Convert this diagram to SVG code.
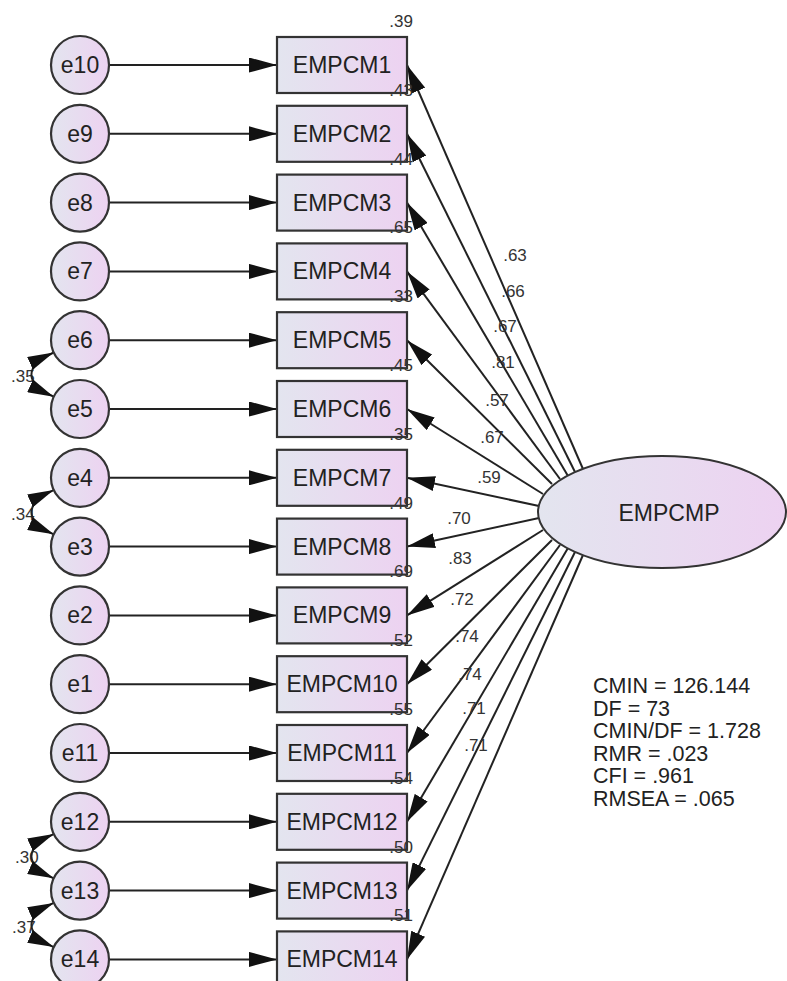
<svg xmlns="http://www.w3.org/2000/svg" width="787" height="981" viewBox="0 0 787 981">
<style>
.bx{fill:url(#gb);stroke:#333;stroke-width:2.2}
.er{fill:url(#gb);stroke:#333;stroke-width:2.2}
.lv{fill:url(#gb);stroke:#333;stroke-width:2}
.t{font-family:"Liberation Sans",Arial,sans-serif;fill:#222}
.nl{font-size:23px;text-anchor:middle}
.cf{font-size:17px;fill:#333;text-anchor:middle}
.r2{font-size:17px;fill:#333;text-anchor:end}
.cv{font-size:17px;fill:#333}
.fit{font-size:21.5px;fill:#222}
.ln{stroke:#222;stroke-width:2;fill:none}
</style>
<defs>
<linearGradient id="gb" x1="0" y1="0" x2="1" y2="0">
<stop offset="0" stop-color="#e3e5ef"/>
<stop offset="1" stop-color="#edd2f1"/>
</linearGradient>
<marker id="ah" markerUnits="userSpaceOnUse" markerWidth="28" markerHeight="15" refX="28" refY="7.5" orient="auto-start-reverse" viewBox="0 0 28 15">
<path d="M0,0 L28,7.5 L0,15 Z" fill="#111"/>
</marker>
<marker id="ac" markerUnits="userSpaceOnUse" markerWidth="26" markerHeight="14" refX="26" refY="7" orient="auto-start-reverse" viewBox="0 0 26 14">
<path d="M0,0 L26,7 L0,14 Z" fill="#111"/>
</marker>
</defs>
<rect width="787" height="981" fill="#fff"/>

<g id="labels-cov">
<text class="t cv" x="11" y="382">.35</text>
<text class="t cv" x="11" y="520">.34</text>
<text class="t cv" x="15" y="863">.30</text>
<text class="t cv" x="12" y="933">.37</text>
</g>

<g id="connectors">
<line class="ln" x1="109" y1="65" x2="277" y2="65" marker-end="url(#ah)"/>
<line class="ln" x1="109" y1="133.8" x2="277" y2="133.8" marker-end="url(#ah)"/>
<line class="ln" x1="109" y1="202.6" x2="277" y2="202.6" marker-end="url(#ah)"/>
<line class="ln" x1="109" y1="271.4" x2="277" y2="271.4" marker-end="url(#ah)"/>
<line class="ln" x1="109" y1="340.2" x2="277" y2="340.2" marker-end="url(#ah)"/>
<line class="ln" x1="109" y1="409" x2="277" y2="409" marker-end="url(#ah)"/>
<line class="ln" x1="109" y1="477.8" x2="277" y2="477.8" marker-end="url(#ah)"/>
<line class="ln" x1="109" y1="546.6" x2="277" y2="546.6" marker-end="url(#ah)"/>
<line class="ln" x1="109" y1="615.4" x2="277" y2="615.4" marker-end="url(#ah)"/>
<line class="ln" x1="109" y1="684.2" x2="277" y2="684.2" marker-end="url(#ah)"/>
<line class="ln" x1="109" y1="753" x2="277" y2="753" marker-end="url(#ah)"/>
<line class="ln" x1="109" y1="821.8" x2="277" y2="821.8" marker-end="url(#ah)"/>
<line class="ln" x1="109" y1="890.6" x2="277" y2="890.6" marker-end="url(#ah)"/>
<line class="ln" x1="109" y1="959.4" x2="277" y2="959.4" marker-end="url(#ah)"/>

<line class="ln" x1="583" y1="469" x2="407" y2="65" marker-end="url(#ah)"/>
<line class="ln" x1="575" y1="472" x2="407" y2="133.8" marker-end="url(#ah)"/>
<line class="ln" x1="568" y1="476" x2="407" y2="202.6" marker-end="url(#ah)"/>
<line class="ln" x1="560" y1="479" x2="407" y2="271.4" marker-end="url(#ah)"/>
<line class="ln" x1="552" y1="484" x2="407" y2="340.2" marker-end="url(#ah)"/>
<line class="ln" x1="543" y1="494" x2="407" y2="409" marker-end="url(#ah)"/>
<line class="ln" x1="539" y1="506" x2="407" y2="477.8" marker-end="url(#ah)"/>
<line class="ln" x1="539" y1="518" x2="407" y2="546.6" marker-end="url(#ah)"/>
<line class="ln" x1="543" y1="530" x2="407" y2="615.4" marker-end="url(#ah)"/>
<line class="ln" x1="552" y1="540" x2="407" y2="684.2" marker-end="url(#ah)"/>
<line class="ln" x1="560" y1="545" x2="407" y2="753" marker-end="url(#ah)"/>
<line class="ln" x1="568" y1="548" x2="407" y2="821.8" marker-end="url(#ah)"/>
<line class="ln" x1="575" y1="552" x2="407" y2="890.6" marker-end="url(#ah)"/>
<line class="ln" x1="583" y1="555" x2="407" y2="959.4" marker-end="url(#ah)"/>

<path class="ln" d="M53.7,352.5 C24,366 24,383 53.7,396.7" marker-start="url(#ac)" marker-end="url(#ac)"/>
<path class="ln" d="M53.7,490.1 C24,503.6 24,520.8 53.7,534.3" marker-start="url(#ac)" marker-end="url(#ac)"/>
<path class="ln" d="M53.7,834.1 C24,847.6 24,864.8 53.7,878.3" marker-start="url(#ac)" marker-end="url(#ac)"/>
<path class="ln" d="M53.7,902.9 C24,916.4 24,933.6 53.7,947.1" marker-start="url(#ac)" marker-end="url(#ac)"/>
</g>

<g id="coef-labels">
<text class="t cf" x="515" y="261">.63</text>
<text class="t cf" x="513" y="297">.66</text>
<text class="t cf" x="505" y="332">.67</text>
<text class="t cf" x="503" y="368">.81</text>
<text class="t cf" x="497" y="406">.57</text>
<text class="t cf" x="492" y="443">.67</text>
<text class="t cf" x="489" y="483">.59</text>
<text class="t cf" x="459" y="524">.70</text>
<text class="t cf" x="460" y="564">.83</text>
<text class="t cf" x="462" y="605">.72</text>
<text class="t cf" x="467" y="642">.74</text>
<text class="t cf" x="470" y="680">.74</text>
<text class="t cf" x="474" y="714">.71</text>
<text class="t cf" x="476" y="751">.71</text>
</g>

<g id="e10"><circle class="er" cx="80" cy="65" r="29"/><text class="t nl" x="80" y="73">e10</text></g>
<g id="e9"><circle class="er" cx="80" cy="133.8" r="29"/><text class="t nl" x="80" y="141.8">e9</text></g>
<g id="e8"><circle class="er" cx="80" cy="202.6" r="29"/><text class="t nl" x="80" y="210.6">e8</text></g>
<g id="e7"><circle class="er" cx="80" cy="271.4" r="29"/><text class="t nl" x="80" y="279.4">e7</text></g>
<g id="e6"><circle class="er" cx="80" cy="340.2" r="29"/><text class="t nl" x="80" y="348.2">e6</text></g>
<g id="e5"><circle class="er" cx="80" cy="409" r="29"/><text class="t nl" x="80" y="417">e5</text></g>
<g id="e4"><circle class="er" cx="80" cy="477.8" r="29"/><text class="t nl" x="80" y="485.8">e4</text></g>
<g id="e3"><circle class="er" cx="80" cy="546.6" r="29"/><text class="t nl" x="80" y="554.6">e3</text></g>
<g id="e2"><circle class="er" cx="80" cy="615.4" r="29"/><text class="t nl" x="80" y="623.4">e2</text></g>
<g id="e1"><circle class="er" cx="80" cy="684.2" r="29"/><text class="t nl" x="80" y="692.2">e1</text></g>
<g id="e11"><circle class="er" cx="80" cy="753" r="29"/><text class="t nl" x="80" y="761">e11</text></g>
<g id="e12"><circle class="er" cx="80" cy="821.8" r="29"/><text class="t nl" x="80" y="829.8">e12</text></g>
<g id="e13"><circle class="er" cx="80" cy="890.6" r="29"/><text class="t nl" x="80" y="898.6">e13</text></g>
<g id="e14"><circle class="er" cx="80" cy="959.4" r="29"/><text class="t nl" x="80" y="967.4">e14</text></g>

<g id="EMPCM1"><rect class="bx" x="277" y="37" width="130" height="56"/><text class="t nl" x="342" y="73">EMPCM1</text><text class="t r2" x="413" y="27">.39</text></g>
<g id="EMPCM2"><rect class="bx" x="277" y="105.8" width="130" height="56"/><text class="t nl" x="342" y="141.8">EMPCM2</text><text class="t r2" x="413" y="95.8">.43</text></g>
<g id="EMPCM3"><rect class="bx" x="277" y="174.6" width="130" height="56"/><text class="t nl" x="342" y="210.6">EMPCM3</text><text class="t r2" x="413" y="164.6">.44</text></g>
<g id="EMPCM4"><rect class="bx" x="277" y="243.4" width="130" height="56"/><text class="t nl" x="342" y="279.4">EMPCM4</text><text class="t r2" x="413" y="233.4">.65</text></g>
<g id="EMPCM5"><rect class="bx" x="277" y="312.2" width="130" height="56"/><text class="t nl" x="342" y="348.2">EMPCM5</text><text class="t r2" x="413" y="302.2">.33</text></g>
<g id="EMPCM6"><rect class="bx" x="277" y="381" width="130" height="56"/><text class="t nl" x="342" y="417">EMPCM6</text><text class="t r2" x="413" y="371">.45</text></g>
<g id="EMPCM7"><rect class="bx" x="277" y="449.8" width="130" height="56"/><text class="t nl" x="342" y="485.8">EMPCM7</text><text class="t r2" x="413" y="439.8">.35</text></g>
<g id="EMPCM8"><rect class="bx" x="277" y="518.6" width="130" height="56"/><text class="t nl" x="342" y="554.6">EMPCM8</text><text class="t r2" x="413" y="508.6">.49</text></g>
<g id="EMPCM9"><rect class="bx" x="277" y="587.4" width="130" height="56"/><text class="t nl" x="342" y="623.4">EMPCM9</text><text class="t r2" x="413" y="577.4">.69</text></g>
<g id="EMPCM10"><rect class="bx" x="277" y="656.2" width="130" height="56"/><text class="t nl" x="342" y="692.2">EMPCM10</text><text class="t r2" x="413" y="646.2">.52</text></g>
<g id="EMPCM11"><rect class="bx" x="277" y="725" width="130" height="56"/><text class="t nl" x="342" y="761">EMPCM11</text><text class="t r2" x="413" y="715">.55</text></g>
<g id="EMPCM12"><rect class="bx" x="277" y="793.8" width="130" height="56"/><text class="t nl" x="342" y="829.8">EMPCM12</text><text class="t r2" x="413" y="783.8">.54</text></g>
<g id="EMPCM13"><rect class="bx" x="277" y="862.6" width="130" height="56"/><text class="t nl" x="342" y="898.6">EMPCM13</text><text class="t r2" x="413" y="852.6">.50</text></g>
<g id="EMPCM14"><rect class="bx" x="277" y="931.4" width="130" height="56"/><text class="t nl" x="342" y="967.4">EMPCM14</text><text class="t r2" x="413" y="921.4">.51</text></g>

<g id="EMPCMP"><ellipse class="lv" cx="662" cy="512" rx="124" ry="56"/><text class="t nl" x="669" y="521">EMPCMP</text></g>

<g id="fit">
<text class="t fit" x="593" y="693">CMIN = 126.144</text>
<text class="t fit" x="593" y="715.6">DF = 73</text>
<text class="t fit" x="593" y="738.2">CMIN/DF = 1.728</text>
<text class="t fit" x="593" y="760.8">RMR = .023</text>
<text class="t fit" x="593" y="783.4">CFI = .961</text>
<text class="t fit" x="593" y="806">RMSEA = .065</text>
</g>
</svg>
